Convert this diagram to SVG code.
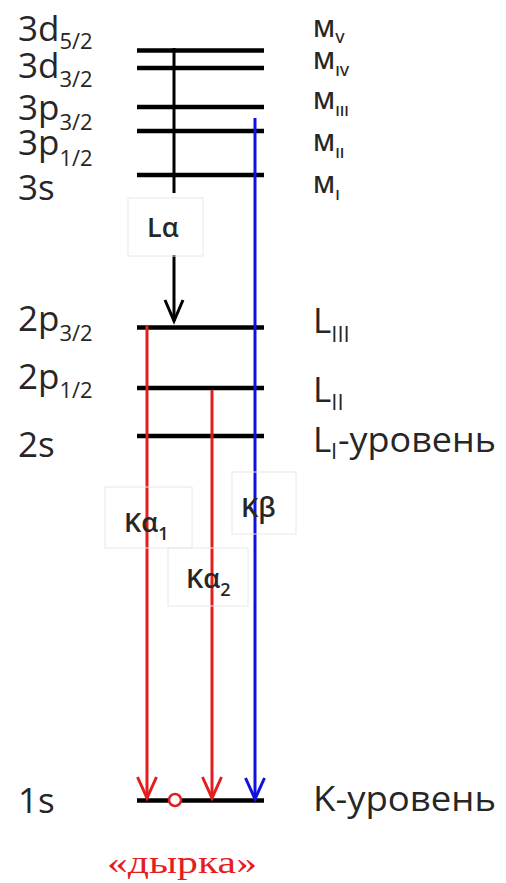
<svg xmlns="http://www.w3.org/2000/svg" width="506" height="883" viewBox="0 0 506 883">
<defs>
<style>
.lvl{stroke:#000;stroke-width:4.5;fill:none}
.t{font-family:"Open Sans","Liberation Sans",sans-serif;fill:#262626}
.big{font-size:35px}
.sub{font-size:22px}
.m{font-size:24px;font-weight:600}
.msub{font-size:15px;font-weight:600}
.tr{font-size:27px;font-weight:600}
.trsub{font-size:18px;font-weight:600}
.box{fill:none;stroke:#e8e8e8;stroke-width:1}
.red{stroke:#e41e1e;stroke-width:3;fill:none}
.blue{stroke:#1010e0;stroke-width:3;fill:none}
.blk{stroke:#000;stroke-width:3;fill:none}
</style>
<marker id="ar" viewBox="-24 -12 28 24" refX="0" refY="0" markerWidth="28" markerHeight="24" markerUnits="userSpaceOnUse" orient="auto">
<path d="M-21,-9.5 L0,0 L-21,9.5" fill="none" stroke="#e41e1e" stroke-width="3"/>
</marker>
<marker id="ab" viewBox="-24 -12 28 24" refX="0" refY="0" markerWidth="28" markerHeight="24" markerUnits="userSpaceOnUse" orient="auto">
<path d="M-21,-9.5 L0,0 L-21,9.5" fill="none" stroke="#1010e0" stroke-width="3"/>
</marker>
<marker id="ak" viewBox="-24 -12 28 24" refX="0" refY="0" markerWidth="28" markerHeight="24" markerUnits="userSpaceOnUse" orient="auto">
<path d="M-21,-9 L0,0 L-21,9" fill="none" stroke="#000" stroke-width="3"/>
</marker>
</defs>
<rect width="506" height="883" fill="#fff"/>

<g id="M5">
<line class="lvl" x1="137" y1="50.5" x2="264" y2="50.5"/>
<text class="t big" x="18" y="41">3d<tspan class="sub" y="49">5/2</tspan></text>
<text class="t m" x="313" y="37">M<tspan class="msub" y="43">V</tspan></text>
</g>
<g id="M4">
<line class="lvl" x1="137" y1="68" x2="264" y2="68"/>
<text class="t big" x="18" y="78">3d<tspan class="sub" y="87">3/2</tspan></text>
<text class="t m" x="313" y="69">M<tspan class="msub" y="76">IV</tspan></text>
</g>
<g id="M3">
<line class="lvl" x1="137" y1="107" x2="264" y2="107"/>
<text class="t big" x="18" y="120">3p<tspan class="sub" y="130">3/2</tspan></text>
<text class="t m" x="313" y="109">M<tspan class="msub" y="116">III</tspan></text>
</g>
<g id="M2">
<line class="lvl" x1="137" y1="131" x2="264" y2="131"/>
<text class="t big" x="18" y="155">3p<tspan class="sub" y="166">1/2</tspan></text>
<text class="t m" x="313" y="151">M<tspan class="msub" y="158">II</tspan></text>
</g>
<g id="M1">
<line class="lvl" x1="137" y1="175" x2="264" y2="175"/>
<text class="t big" x="18" y="200">3s</text>
<text class="t m" x="313" y="193">M<tspan class="msub" y="200">I</tspan></text>
</g>
<g id="L3">
<line class="lvl" x1="137" y1="327.5" x2="264" y2="327.5"/>
<text class="t big" x="18" y="331">2p<tspan class="sub" y="341">3/2</tspan></text>
<text class="t big" x="313" y="333">L<tspan class="sub" y="342">III</tspan></text>
</g>
<g id="L2">
<line class="lvl" x1="137" y1="388" x2="264" y2="388"/>
<text class="t big" x="18" y="389">2p<tspan class="sub" y="398">1/2</tspan></text>
<text class="t big" x="313" y="402">L<tspan class="sub" y="410">II</tspan></text>
</g>
<g id="L1">
<line class="lvl" x1="137" y1="436" x2="264" y2="436"/>
<text class="t big" x="18" y="457">2s</text>
<text class="t big" x="313" y="452">L</text>
<text class="t sub" x="331" y="459">I</text>
<text class="t big" x="338" y="452" textLength="158" lengthAdjust="spacingAndGlyphs">-уровень</text>
</g>
<g id="K">
<line class="lvl" x1="137" y1="800.5" x2="264" y2="800.5"/>
<text class="t big" x="18" y="813">1s</text>
<text class="t big" x="313" y="811" textLength="183" lengthAdjust="spacingAndGlyphs">K-уровень</text>
</g>

<g id="connectors">
<line class="blk" x1="174" y1="48" x2="174" y2="193"/>
<line class="blk" x1="174" y1="255" x2="174" y2="321" marker-end="url(#ak)"/>
<line class="red" x1="147" y1="325.5" x2="147" y2="798" marker-end="url(#ar)"/>
<line class="red" x1="212" y1="390" x2="212" y2="798" marker-end="url(#ar)"/>
<line class="blue" x1="255" y1="118" x2="255" y2="799" marker-end="url(#ab)"/>
</g>

<g id="labels">
<rect class="box" x="128" y="198" width="75" height="58"/>
<text class="t tr" x="147" y="237">Lα</text>
<rect class="box" x="105" y="487" width="87" height="61"/>
<text class="t tr" x="124" y="532">Kα<tspan class="trsub" y="540">1</tspan></text>
<rect class="box" x="168" y="548" width="80" height="58"/>
<text class="t tr" x="186" y="588">Kα<tspan class="trsub" y="596">2</tspan></text>
<rect class="box" x="232" y="472" width="64" height="62"/>
<text class="t tr" x="241" y="517">Kβ</text>
</g>

<g id="hole">
<circle cx="175" cy="800" r="6" fill="#fff" stroke="#e41e1e" stroke-width="2.5"/>
<text x="107" y="873" font-family="Liberation Serif, serif" font-size="32" fill="#e41e1e" textLength="150" lengthAdjust="spacingAndGlyphs">«дырка»</text>
</g>
</svg>
